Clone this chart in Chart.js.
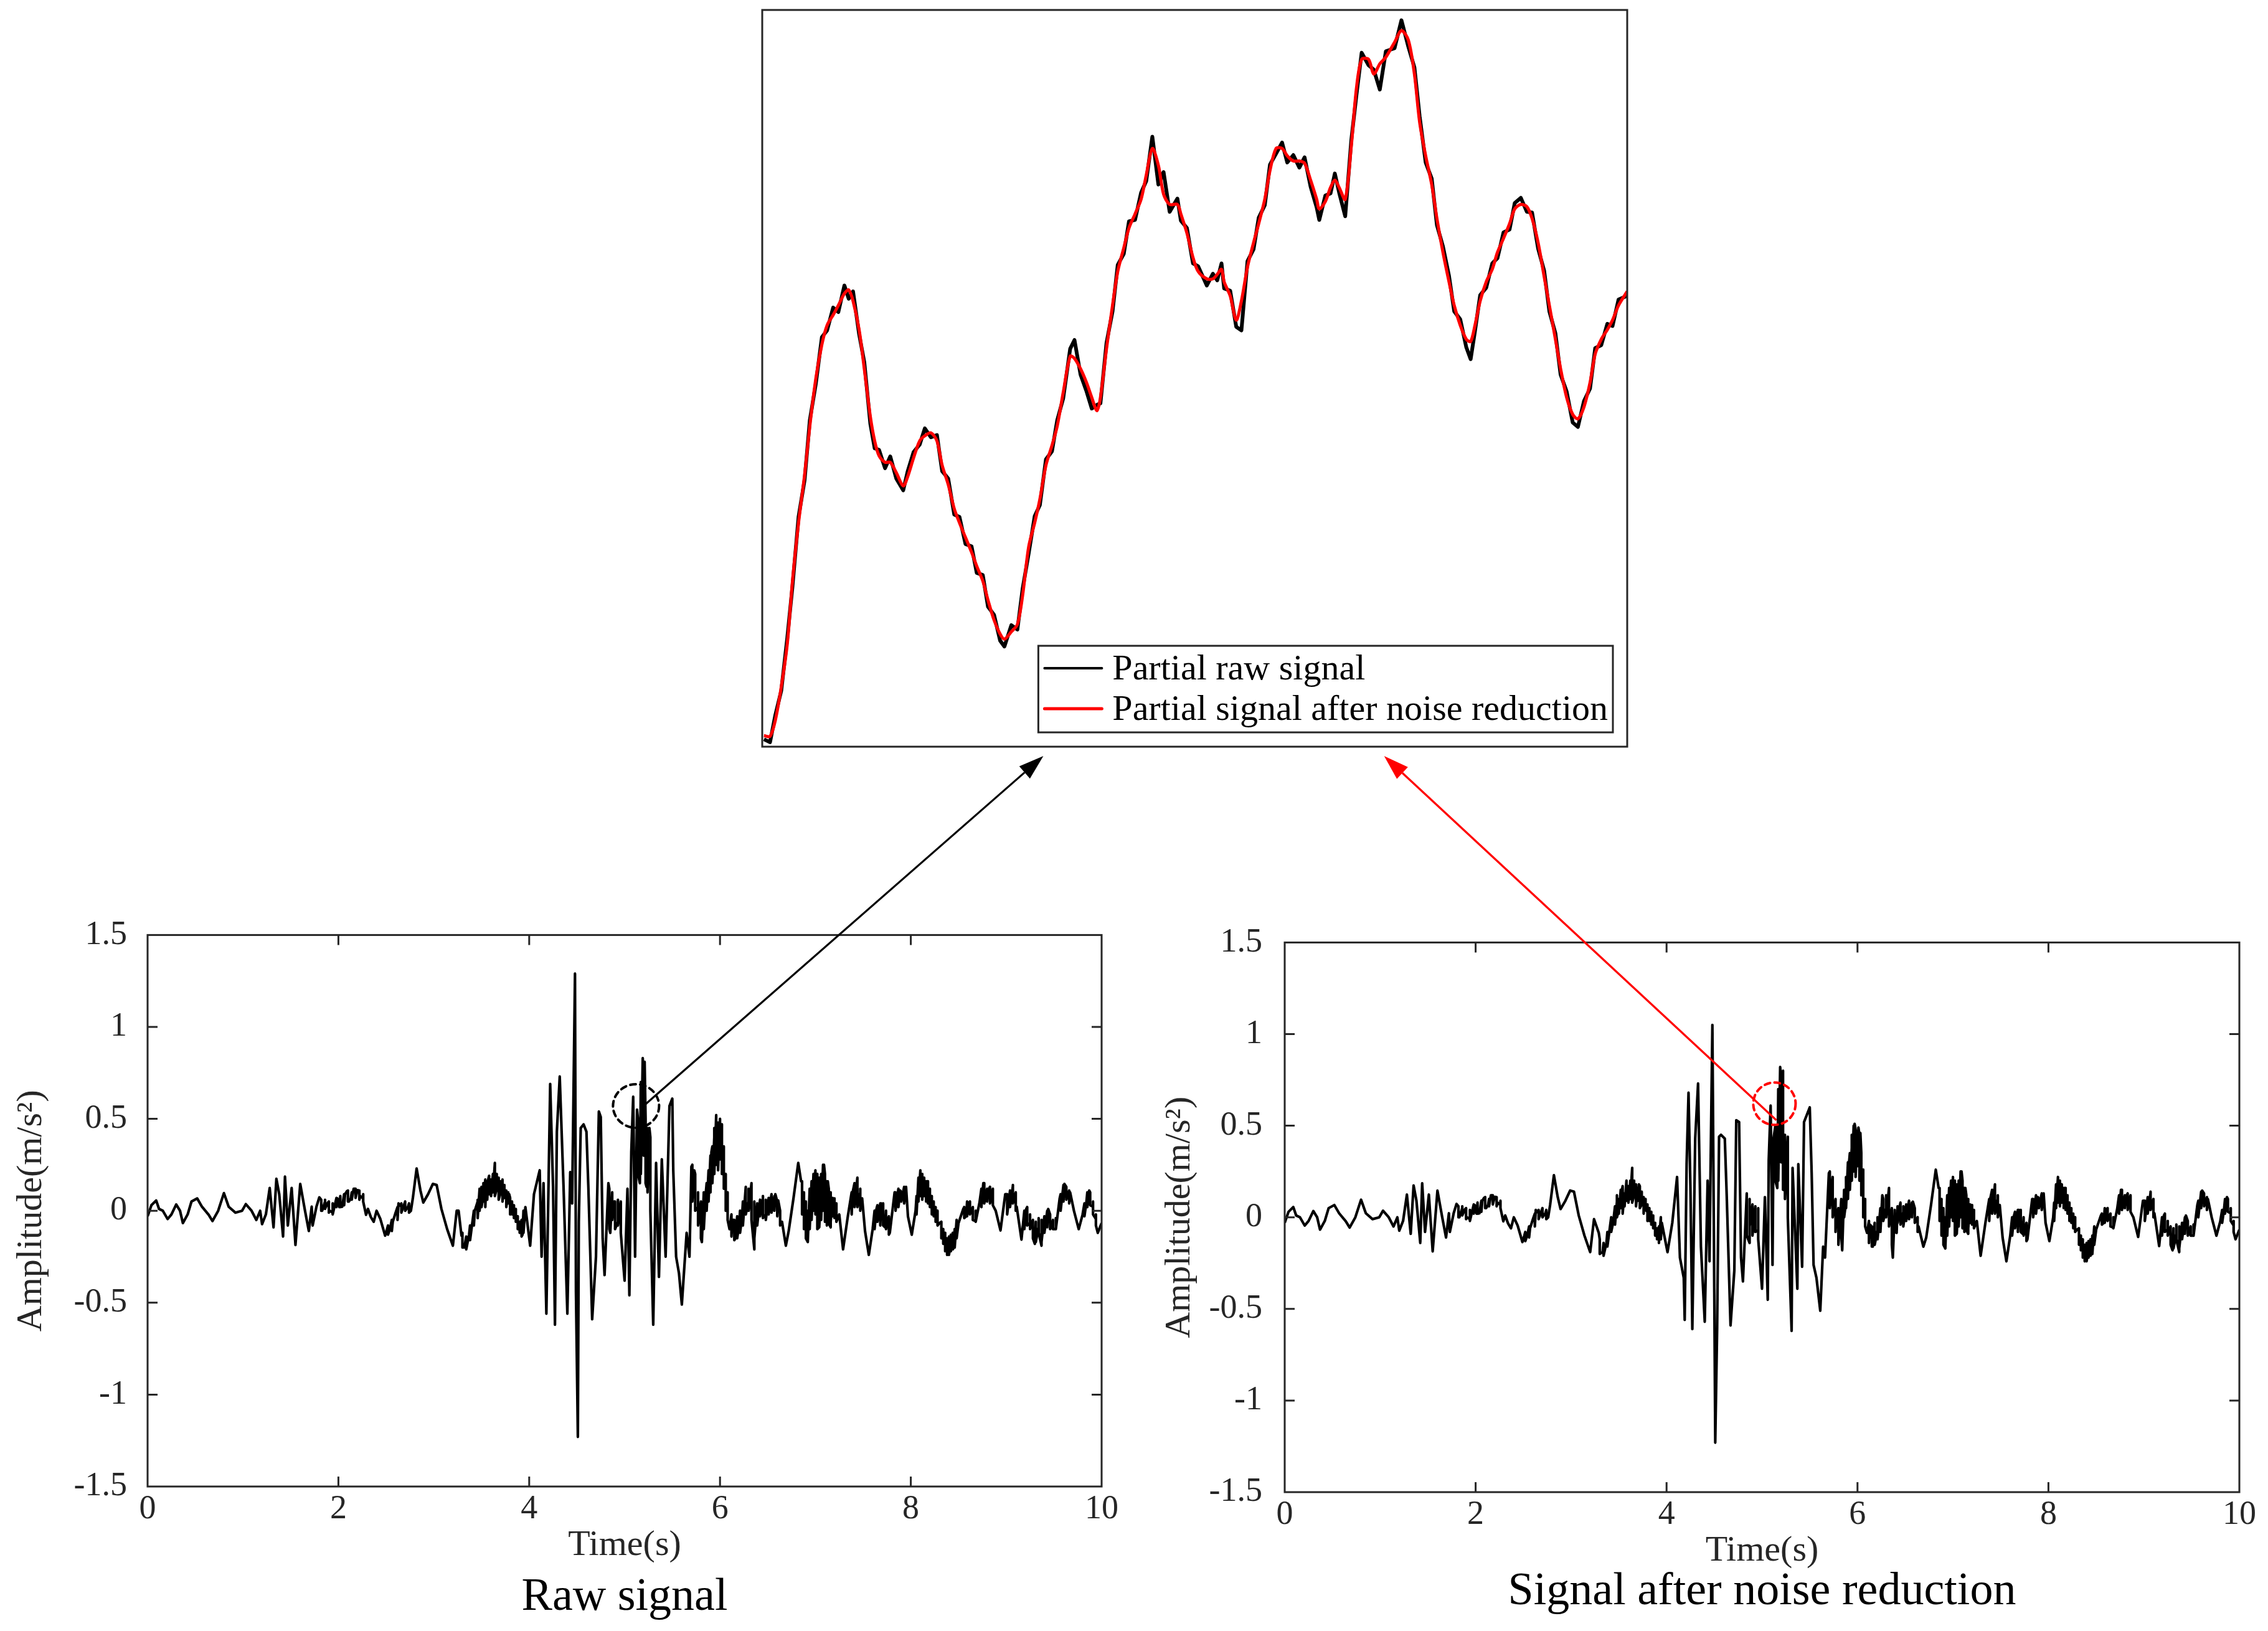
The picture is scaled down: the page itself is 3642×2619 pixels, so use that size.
<!DOCTYPE html>
<html><head><meta charset="utf-8">
<script src="https://cdn.jsdelivr.net/npm/chart.js@4.4.0/dist/chart.umd.min.js"></script>
<style>
html,body{margin:0;padding:0;background:#fff;overflow:hidden;}
#page{position:relative;width:3642px;height:2619px;background:#fff;overflow:hidden;}
#page canvas{position:absolute;}
</style></head><body>
<div id="page">
<canvas id="cTop" width="1440" height="1220" style="left:1200px;top:0px;"></canvas>
<canvas id="cRaw" width="1800" height="1171" style="left:0px;top:1436px;"></canvas>
<canvas id="cDen" width="1812" height="1153" style="left:1830px;top:1445px;"></canvas>
<canvas id="overlay" width="3642" height="2619" style="left:0px;top:0px;pointer-events:none;"></canvas>
</div>
<script>
// ---------------- DATA ----------------
const xTickLabels = ['0','2','4','6','8','10'];
const yTickLabels = ['-1.5','-1','-0.5','0','0.5','1','1.5'];
const panelTitles = ['Raw signal','Signal after noise reduction'];
const axisTitles = ['Time(s)','Amplitude(m/s\u00B2)'];
const zoomLabels = ['Partial raw signal','Partial signal after noise reduction'];

// raw signal trace: [time s, amplitude m/s^2]
const rawSignal = [
[0.00,-0.03],[0.04,0.03],[0.09,0.056],[0.12,0.01],[0.16,0],[0.21,-0.045],[0.25,-0.02],[0.30,0.034],[0.34,0],[0.37,-0.067],
[0.42,-0.02],[0.46,0.05],[0.52,0.067],[0.57,0.022],[0.64,-0.022],[0.68,-0.056],[0.74,0],[0.80,0.096],[0.85,0.022],[0.92,-0.01],
[0.99,0],[1.03,0.036],[1.09,0],[1.14,-0.05],[1.18,0],[1.20,-0.073],[1.24,-0.02],[1.28,0.124],[1.32,-0.09],[1.35,0.174],
[1.38,0.09],[1.42,-0.14],[1.44,0.186],[1.47,-0.08],[1.51,0.124],[1.55,-0.186],[1.60,0.146],[1.65,0],[1.69,-0.11],[1.72,0.022],
[1.73,-0.08],[1.77,0.022],[1.80,0.073],[1.83,0],[1.86,0.05],[1.89,0.045],[1.91,0.0],[1.94,-0.01],[1.99,0.067],[2.01,0.02],
[2.04,0.022],[2.07,0.09],[2.09,0.107],[2.11,0.05],[2.13,0.067],[2.16,0.12],[2.20,0.112],[2.23,0.08],[2.26,0.067],[2.29,-0.022],
[2.31,0.01],[2.34,-0.034],[2.37,-0.06],[2.40,0],[2.44,-0.045],[2.49,-0.135],[2.51,-0.1],[2.54,-0.1],[2.57,-0.06],[2.60,-0.01],
[2.63,0.04],[2.66,0.022],[2.70,0.05],[2.73,0.022],[2.76,0],[2.78,0.067],[2.82,0.23],[2.86,0.11],[2.89,0.045],[2.94,0.09],
[2.99,0.146],[3.03,0.14],[3.08,0.01],[3.14,-0.1],[3.20,-0.19],[3.24,0],[3.26,0.0],[3.29,-0.135],[3.32,-0.2],[3.37,-0.13],
[3.43,0],[3.46,0.05],[3.50,0.13],[3.52,0.08],[3.55,0.16],[3.57,0.17],[3.60,0.12],[3.62,0.2],[3.64,0.26],[3.66,0.12],
[3.68,0.17],[3.70,0.1],[3.72,0.15],[3.75,0.08],[3.79,0.09],[3.82,0.0],[3.86,-0.02],[3.89,-0.08],[3.93,-0.13],[3.96,0.02],
[4.01,-0.19],[4.05,0.09],[4.11,0.22],[4.13,-0.25],[4.15,0.15],[4.18,-0.56],[4.22,0.69],[4.25,0.13],[4.27,-0.62],[4.29,0.43],
[4.32,0.73],[4.36,0.13],[4.40,-0.56],[4.43,0.21],[4.45,0.04],[4.48,1.29],[4.49,-0.44],[4.51,-1.23],[4.52,-0.06],[4.54,0.45],
[4.57,0.47],[4.60,0.43],[4.62,0.13],[4.66,-0.59],[4.70,-0.25],[4.73,0.54],[4.75,0.51],[4.77,-0.15],[4.79,-0.35],[4.83,0.15],
[4.85,-0.12],[4.89,0.05],[4.93,-0.06],[4.96,0.05],[5.00,-0.38],[5.03,0.12],[5.05,-0.46],[5.07,0.32],[5.09,0.62],[5.11,-0.25],
[5.13,0.55],[5.16,0.15],[5.19,0.83],[5.21,0.81],[5.23,0.13],[5.26,0.45],[5.30,-0.62],[5.33,0.26],[5.36,-0.36],[5.39,0.28],
[5.43,-0.25],[5.47,0.57],[5.50,0.61],[5.51,0.22],[5.54,-0.25],[5.57,-0.34],[5.60,-0.51],[5.65,-0.12],[5.68,-0.25],[5.70,0.24],
[5.73,0.22],[5.77,0.02],[5.81,-0.17],[5.85,0.09],[5.91,0.32],[5.94,0.4],[5.96,0.52],[5.98,0.35],[6.00,0.5],[6.02,0.47],
[6.04,0.3],[6.05,0.17],[6.08,0.0],[6.10,-0.1],[6.13,-0.05],[6.16,-0.15],[6.20,-0.08],[6.23,-0.04],[6.27,0.13],[6.30,0.05],
[6.33,0.15],[6.36,-0.21],[6.41,0.02],[6.45,0.07],[6.48,-0.02],[6.52,0.02],[6.58,0.09],[6.61,0.056],[6.65,-0.06],[6.69,-0.19],
[6.72,-0.11],[6.77,0.067],[6.82,0.26],[6.85,0.16],[6.88,0],[6.92,-0.17],[6.96,0.16],[7.00,0.22],[7.02,0.05],[7.04,-0.09],
[7.06,0.12],[7.09,0.25],[7.11,0.1],[7.13,0.16],[7.16,-0.09],[7.20,0.067],[7.25,-0.02],[7.29,-0.21],[7.34,-0.03],[7.39,0.1],
[7.44,0.18],[7.47,0.1],[7.49,0.067],[7.52,-0.11],[7.56,-0.24],[7.60,-0.1],[7.64,0.01],[7.69,0.04],[7.71,-0.03],[7.73,-0.09],
[7.78,-0.12],[7.83,0.1],[7.89,0.11],[7.95,0.13],[7.97,-0.03],[8.01,-0.13],[8.05,0],[8.10,0.22],[8.13,0.15],[8.17,0.16],
[8.20,0.08],[8.24,0.022],[8.30,-0.067],[8.35,-0.146],[8.39,-0.236],[8.42,-0.17],[8.45,-0.2],[8.50,-0.067],[8.55,0.01],[8.58,-0.03],
[8.61,0.045],[8.68,-0.056],[8.72,0.045],[8.76,0.15],[8.81,0.11],[8.86,0.12],[8.89,0],[8.94,-0.107],[8.99,0.09],[9.07,0.135],
[9.11,0.022],[9.16,-0.157],[9.21,0.01],[9.25,-0.067],[9.30,-0.18],[9.34,-0.09],[9.37,-0.19],[9.41,-0.08],[9.44,0.01],[9.47,-0.09],
[9.52,-0.1],[9.56,0.067],[9.61,0.146],[9.67,0.1],[9.71,0],[9.76,-0.1],[9.80,-0.022],[9.84,0.045],[9.87,0.11],[9.91,0.022],
[9.94,-0.045],[9.96,-0.12],[10.00,-0.067]
];

// signal after noise reduction trace: [time s, amplitude m/s^2]
const denoisedSignal = [
[0.00,-0.03],[0.04,0.03],[0.09,0.056],[0.12,0.01],[0.16,0],[0.21,-0.045],[0.25,-0.02],[0.30,0.034],[0.34,0],[0.37,-0.067],
[0.42,-0.02],[0.46,0.05],[0.52,0.067],[0.57,0.022],[0.64,-0.022],[0.68,-0.056],[0.74,0],[0.80,0.096],[0.85,0.022],[0.92,-0.01],
[0.99,0],[1.03,0.036],[1.09,0],[1.14,-0.05],[1.18,0],[1.20,-0.073],[1.24,-0.02],[1.28,0.124],[1.32,-0.09],[1.35,0.174],
[1.38,0.09],[1.42,-0.14],[1.44,0.186],[1.47,-0.08],[1.51,0.124],[1.55,-0.186],[1.60,0.146],[1.65,0],[1.69,-0.11],[1.72,0.022],
[1.73,-0.08],[1.77,0.022],[1.80,0.073],[1.83,0],[1.86,0.05],[1.89,0.045],[1.91,0.0],[1.94,-0.01],[1.99,0.067],[2.01,0.02],
[2.04,0.022],[2.07,0.09],[2.09,0.107],[2.11,0.05],[2.13,0.067],[2.16,0.12],[2.20,0.112],[2.23,0.08],[2.26,0.067],[2.29,-0.022],
[2.31,0.01],[2.34,-0.034],[2.37,-0.06],[2.40,0],[2.44,-0.045],[2.49,-0.135],[2.51,-0.1],[2.54,-0.1],[2.57,-0.06],[2.60,-0.01],
[2.63,0.04],[2.66,0.022],[2.70,0.05],[2.73,0.022],[2.76,0],[2.78,0.067],[2.82,0.23],[2.86,0.11],[2.89,0.045],[2.94,0.09],
[2.99,0.146],[3.03,0.14],[3.08,0.01],[3.14,-0.1],[3.20,-0.19],[3.24,-0.01],[3.29,-0.085],[3.33,-0.19],[3.37,-0.14],[3.44,-0.03],
[3.48,0.085],[3.50,0.04],[3.53,0.14],[3.55,0.08],[3.58,0.2],[3.61,0.12],[3.64,0.27],[3.66,0.12],[3.68,0.16],[3.71,0.18],
[3.74,0.07],[3.77,0.1],[3.80,0.03],[3.84,0.01],[3.87,-0.05],[3.90,-0.085],[3.95,-0.03],[4.01,-0.19],[4.06,-0.03],[4.11,0.22],
[4.14,-0.22],[4.18,-0.33],[4.19,-0.56],[4.21,0.29],[4.23,0.68],[4.25,0.16],[4.27,-0.61],[4.30,0.43],[4.33,0.73],[4.36,-0.16],
[4.40,-0.57],[4.43,0.2],[4.45,-0.24],[4.46,0.23],[4.48,1.05],[4.50,-0.41],[4.51,-1.23],[4.53,-0.6],[4.55,0.44],[4.57,0.45],
[4.61,0.43],[4.63,0.12],[4.67,-0.59],[4.71,-0.29],[4.73,0.53],[4.76,0.52],[4.78,-0.22],[4.80,-0.35],[4.84,0.13],[4.87,-0.14],
[4.90,0.07],[4.96,-0.07],[5.00,-0.39],[5.03,0.11],[5.06,-0.45],[5.07,0.31],[5.09,0.61],[5.11,-0.26],[5.12,0.43],[5.16,0.16],
[5.19,0.82],[5.22,0.80],[5.23,0.16],[5.27,0.44],[5.31,-0.62],[5.32,0.27],[5.37,-0.39],[5.38,0.29],[5.42,-0.27],[5.44,0.52],
[5.47,0.56],[5.50,0.6],[5.52,0.24],[5.54,-0.26],[5.57,-0.33],[5.61,-0.51],[5.64,-0.16],[5.66,-0.22],[5.70,0.24],[5.74,0.22],
[5.78,0.01],[5.84,-0.18],[5.88,0.085],[5.91,0.29],[5.94,0.38],[5.97,0.51],[5.99,0.36],[6.01,0.49],[6.03,0.46],[6.06,0.26],
[6.10,-0.085],[6.13,-0.04],[6.16,-0.16],[6.21,-0.07],[6.26,0.12],[6.30,0.05],[6.33,0.16],[6.37,-0.22],[6.41,-0.085],[6.44,0.05],
[6.48,0.03],[6.53,0.06],[6.58,0.085],[6.64,-0.05],[6.69,-0.16],
[6.72,-0.11],[6.77,0.067],[6.82,0.26],[6.85,0.16],[6.88,0],[6.92,-0.17],[6.96,0.16],[7.00,0.22],[7.02,0.05],[7.04,-0.09],
[7.06,0.12],[7.09,0.25],[7.11,0.1],[7.13,0.16],[7.16,-0.09],[7.20,0.067],[7.25,-0.02],[7.29,-0.21],[7.34,-0.03],[7.39,0.1],
[7.44,0.18],[7.47,0.1],[7.49,0.067],[7.52,-0.11],[7.56,-0.24],[7.60,-0.1],[7.64,0.01],[7.69,0.04],[7.71,-0.03],[7.73,-0.09],
[7.78,-0.12],[7.83,0.1],[7.89,0.11],[7.95,0.13],[7.97,-0.03],[8.01,-0.13],[8.05,0],[8.10,0.22],[8.13,0.15],[8.17,0.16],
[8.20,0.08],[8.24,0.022],[8.30,-0.067],[8.35,-0.146],[8.39,-0.236],[8.42,-0.17],[8.45,-0.2],[8.50,-0.067],[8.55,0.01],[8.58,-0.03],
[8.61,0.045],[8.68,-0.056],[8.72,0.045],[8.76,0.15],[8.81,0.11],[8.86,0.12],[8.89,0],[8.94,-0.107],[8.99,0.09],[9.07,0.135],
[9.11,0.022],[9.16,-0.157],[9.21,0.01],[9.25,-0.067],[9.30,-0.18],[9.34,-0.09],[9.37,-0.19],[9.41,-0.08],[9.44,0.01],[9.47,-0.09],
[9.52,-0.1],[9.56,0.067],[9.61,0.146],[9.67,0.1],[9.71,0],[9.76,-0.1],[9.80,-0.022],[9.84,0.045],[9.87,0.11],[9.91,0.022],
[9.94,-0.045],[9.96,-0.12],[10.00,-0.067]
];

// high-frequency noise band: [time s, upper edge, lower edge]
const noiseBand = [
[1.82,0.06,0.0],[1.86,0.06,0.01],[1.90,0.05,-0.01],[1.94,0.04,-0.02],[1.98,0.07,0.02],[2.02,0.08,0.02],[2.06,0.09,0.03],
[2.10,0.11,0.05],[2.14,0.10,0.06],[2.18,0.12,0.07],[2.22,0.11,0.06],[2.26,0.09,0.05],
[2.52,-0.08,-0.13],[2.56,-0.05,-0.11],[2.62,0.02,-0.05],[2.66,0.04,-0.01],[2.70,0.05,0.0],[2.74,0.04,-0.01],
[3.30,-0.12,-0.2],[3.34,-0.14,-0.21],[3.38,-0.08,-0.16],[3.42,0.0,-0.08],
[3.46,0.06,-0.04],[3.48,0.12,0.0],[3.50,0.1,0.02],[3.52,0.15,0.05],[3.54,0.17,0.02],[3.56,0.13,0.06],[3.58,0.19,0.09],
[3.60,0.17,0.08],[3.62,0.2,0.1],[3.64,0.22,0.08],[3.66,0.2,0.12],[3.68,0.18,0.06],[3.70,0.16,0.09],[3.72,0.17,0.05],
[3.74,0.14,0.07],[3.76,0.11,0.02],[3.78,0.1,0.04],[3.80,0.07,-0.02],[3.82,0.05,-0.02],[3.84,0.03,-0.04],[3.86,0.01,-0.06],
[3.88,-0.03,-0.1],[3.90,-0.06,-0.12],[3.92,-0.05,-0.14],[3.94,0.0,-0.12],
[4.84,0.12,-0.1],[4.87,0.1,-0.05],[4.90,0.05,-0.1],[4.93,0.06,-0.08],[4.96,0.05,-0.12],
[5.14,0.5,0.2],[5.17,0.7,0.2],[5.20,0.75,0.3],[5.22,0.5,0.15],[5.24,0.45,0.1],[5.27,0.4,0.0],
[5.71,0.25,0.05],[5.74,0.2,0.0],[5.77,0.1,-0.08],[5.80,0.05,-0.15],[5.83,0.1,-0.1],
[5.86,0.15,0.0],[5.88,0.22,0.05],[5.90,0.3,0.1],[5.92,0.35,0.15],[5.94,0.45,0.2],[5.96,0.5,0.25],[5.98,0.48,0.22],
[6.00,0.47,0.28],[6.02,0.45,0.2],[6.04,0.35,0.12],[6.06,0.2,0.0],[6.08,0.1,-0.05],
[6.12,-0.02,-0.14],[6.15,-0.05,-0.16],[6.18,-0.03,-0.15],[6.21,0.0,-0.12],[6.24,0.05,-0.08],[6.27,0.1,-0.02],[6.30,0.12,0.0],
[6.33,0.1,-0.05],[6.36,0.05,-0.15],[6.39,0.04,-0.08],[6.42,0.06,-0.03],[6.45,0.08,-0.04],[6.48,0.06,-0.05],[6.51,0.07,-0.02],
[6.54,0.09,-0.01],[6.57,0.08,0.0],[6.60,0.05,-0.03],[6.63,0.0,-0.08],
[6.86,0.16,-0.02],[6.88,0.1,-0.1],[6.90,0.05,-0.15],[6.92,0.0,-0.17],[6.94,0.12,-0.1],[6.96,0.16,-0.05],[6.98,0.2,0.0],
[7.00,0.22,-0.02],[7.02,0.2,-0.1],[7.04,0.18,-0.09],[7.06,0.2,-0.05],[7.08,0.25,0.0],[7.10,0.2,-0.06],[7.12,0.16,-0.08],
[7.14,0.12,-0.07],[7.16,0.1,-0.06],[7.18,0.07,-0.03],[7.20,0.06,-0.04],[7.22,0.04,-0.06],
[7.38,0.1,-0.02],[7.41,0.15,0.02],[7.44,0.18,0.02],[7.47,0.12,0.0],
[7.62,0.0,-0.1],[7.65,0.03,-0.06],[7.68,0.04,-0.08],[7.71,0.04,-0.08],[7.74,0.0,-0.1],[7.77,-0.03,-0.13],
[7.84,0.1,0.0],[7.87,0.12,0.02],[7.90,0.1,0.05],[7.93,0.13,0.04],
[8.06,0.08,-0.02],[8.08,0.18,0.05],[8.10,0.22,0.08],[8.12,0.2,0.06],[8.14,0.18,0.08],[8.16,0.16,0.05],[8.18,0.16,0.04],
[8.20,0.12,0.02],[8.22,0.08,-0.02],[8.24,0.05,-0.03],[8.26,0.02,-0.06],[8.28,0.0,-0.08],
[8.32,-0.06,-0.15],[8.34,-0.1,-0.18],[8.36,-0.12,-0.22],[8.38,-0.15,-0.24],[8.40,-0.14,-0.24],[8.42,-0.13,-0.22],
[8.44,-0.12,-0.21],[8.46,-0.1,-0.2],[8.48,-0.05,-0.15],
[8.56,0.02,-0.04],[8.59,0.05,-0.03],[8.62,0.05,-0.02],[8.65,0.02,-0.05],[8.68,0.0,-0.06],
[8.74,0.12,0.02],[8.77,0.15,0.04],[8.80,0.12,0.05],[8.83,0.13,0.04],[8.86,0.12,0.03],
[9.01,0.09,-0.02],[9.04,0.11,0.02],[9.07,0.14,0.04],[9.10,0.1,0.0],
[9.19,0.0,-0.1],[9.22,0.02,-0.08],[9.25,-0.02,-0.1],[9.28,-0.05,-0.15],[9.31,-0.06,-0.17],[9.34,-0.04,-0.12],
[9.37,-0.05,-0.17],[9.40,-0.03,-0.12],[9.43,0.0,-0.09],[9.46,-0.02,-0.1],[9.49,-0.05,-0.1],[9.52,-0.04,-0.1],
[9.57,0.09,0.0],[9.60,0.14,0.05],[9.63,0.13,0.06],[9.66,0.11,0.04],
[9.82,0.04,-0.03],[9.85,0.1,0.02],[9.88,0.1,0.03],[9.91,0.05,-0.02],[9.94,-0.02,-0.08]
];

// zoomed partial window (relative units, no axes shown): [position, level]
const zoomDen = [
[0.2,1.5],[0.9,1.4],[1.5,3.5],[2.2,8.1],[2.9,14.0],[3.5,22.5],[4.2,30.4],[4.9,36.9],[5.5,43.5],[6.2,50.0],
[6.9,54.6],[7.5,57.2],[8.2,58.6],[8.8,59.9],[9.5,61.5],[10.0,62.0],[10.5,60.5],[11.2,56.6],[11.8,51.3],[12.5,44.8],
[13.0,41.5],[13.5,39.5],[14.2,38.6],[14.8,38.6],[15.5,37.2],[16.3,35.4],[16.8,36.6],[17.5,39.2],[18.2,41.5],[18.8,42.2],
[19.5,42.6],[20.2,41.5],[20.8,38.2],[21.5,35.6],[22.2,32.3],[22.8,30.4],[23.5,28.4],[24.2,26.4],[24.8,24.5],[25.5,22.5],
[26.1,19.9],[26.8,17.2],[27.5,15.3],[28.0,14.6],[28.8,15.6],[29.5,16.6],[30.1,20.5],[30.8,27.1],[31.5,30.4],[32.1,33.6],
[32.8,38.2],[33.5,40.9],[34.1,43.5],[34.8,48.1],[35.6,53.0],[36.1,52.7],[36.8,51.3],[37.5,49.4],[38.1,47.4],[38.7,45.6],
[39.1,47.4],[39.8,54.0],[40.5,59.9],[41.1,64.5],[41.8,67.7],[42.4,70.4],[43.1,72.3],[43.8,74.3],[44.4,77.6],[45.1,81.2],
[45.8,78.9],[46.4,75.0],[47.1,73.6],[48.0,73.6],[48.4,72.3],[49.1,69.7],[49.8,66.4],[50.4,64.5],[51.4,63.5],[52.1,63.5],
[52.6,64.1],[53.1,64.8],[53.4,63.1],[54.1,61.2],[54.8,57.9],[55.4,60.5],[56.1,65.1],[56.8,68.4],[57.4,71.0],[58.1,74.3],
[58.7,78.2],[59.4,81.2],[60.1,81.2],[60.7,80.2],[61.4,79.5],[62.1,79.5],[62.7,79.2],[63.4,76.9],[64.1,74.3],[64.4,73.0],
[65.1,74.0],[65.7,75.9],[66.2,76.9],[66.7,75.9],[67.4,74.3],[68.1,81.5],[68.7,89.4],[69.3,93.3],[70.1,93.3],[70.7,91.3],
[71.4,92.7],[72.1,93.6],[73.1,95.6],[73.9,97.2],[74.7,95.9],[75.4,91.3],[76.0,84.8],[76.7,80.2],[77.4,76.3],[78.0,71.7],
[78.7,67.1],[79.4,63.1],[80.0,59.9],[80.7,57.2],[81.4,55.3],[81.9,55.0],[82.4,57.2],[83.0,60.5],[83.7,63.1],[84.4,64.8],
[85.0,67.1],[85.7,69.0],[86.4,71.0],[87.0,73.0],[87.7,73.6],[88.4,73.3],[89.0,71.7],[89.7,68.4],[90.4,63.8],[91.0,59.9],
[91.7,55.3],[92.3,51.3],[93.0,47.4],[93.7,45.1],[94.3,44.5],[95.0,46.1],[95.7,49.4],[96.3,53.3],[97.0,55.3],[97.7,56.6],
[98.3,57.9],[99.0,59.9],[100,61.8]
];
const zoomRaw = [
[0.2,1.0],[0.9,0.6],[1.5,4.2],[2.2,7.6],[2.9,14.8],[3.5,21.8],[4.2,31.2],[4.9,36.2],[5.5,44.3],[6.2,49.3],
[6.9,55.6],[7.5,56.5],[8.2,59.6],[8.8,59.0],[9.5,62.6],[10.0,60.8],[10.5,61.8],[11.2,56.0],[11.8,52.2],[12.5,43.8],
[13.0,40.5],[13.5,40.3],[14.2,37.8],[14.8,39.4],[15.5,36.4],[16.3,34.8],[16.8,37.3],[17.5,40.0],[18.2,41.0],[18.8,43.2],
[19.5,42.0],[20.2,42.3],[20.8,37.4],[21.5,36.4],[22.2,31.5],[22.8,31.2],[23.5,27.5],[24.2,27.2],[24.8,23.6],[25.5,23.3],
[26.1,19.0],[26.8,17.9],[27.5,14.4],[28.0,13.6],[28.8,16.5],[29.5,15.9],[30.1,21.4],[30.8,26.2],[31.5,31.3],[32.1,32.8],
[32.8,39.0],[33.5,40.1],[34.1,44.3],[34.8,47.3],[35.6,54.0],[36.1,55.2],[36.8,50.5],[37.5,48.2],[38.1,45.9],[38.7,46.4],
[39.1,46.6],[39.8,54.8],[40.5,59.1],[41.1,65.4],[41.8,66.9],[42.4,71.3],[43.1,71.5],[43.8,75.2],[44.4,76.8],[45.1,82.8],
[45.8,76.3],[46.4,78.0],[47.1,72.6],[48.0,74.4],[48.4,71.4],[49.1,70.4],[49.8,65.6],[50.4,65.2],[51.4,62.6],[52.1,64.2],
[52.6,63.3],[53.1,65.6],[53.4,62.2],[54.1,61.9],[54.8,57.0],[55.4,56.5],[56.1,65.9],[56.8,67.5],[57.4,71.8],[58.1,73.5],
[58.7,79.0],[59.4,80.5],[60.1,82.0],[60.7,79.3],[61.4,80.3],[62.1,78.6],[62.7,80.0],[63.4,76.0],[64.1,73.2],[64.4,71.5],
[65.1,74.8],[65.7,75.1],[66.2,77.8],[66.7,75.2],[67.4,72.0],[68.1,82.3],[68.7,88.5],[69.3,94.2],[70.1,92.5],[70.7,91.9],
[71.4,89.2],[72.1,94.4],[73.1,94.8],[73.9,98.6],[74.7,95.0],[75.4,92.2],[76.0,85.6],[76.7,79.3],[77.4,77.1],[78.0,70.8],
[78.7,67.9],[79.4,63.9],[80.0,59.1],[80.7,58.0],[81.4,54.2],[81.9,52.6],[82.4,56.4],[83.0,61.3],[83.7,62.3],[84.4,65.6],
[85.0,66.3],[85.7,69.8],[86.4,70.2],[87.0,73.8],[87.7,74.5],[88.4,72.6],[89.0,72.5],[89.7,67.6],[90.4,64.6],[91.0,59.1],
[91.7,56.1],[92.3,50.5],[93.0,48.2],[93.7,44.0],[94.3,43.4],[95.0,46.9],[95.7,48.6],[96.3,54.1],[97.0,54.5],[97.7,57.4],
[98.3,57.1],[99.0,60.7],[100,61.2]
];

// callouts: circled region [time, amplitude] in each lower panel, arrow start [time, amplitude],
// arrow tip in the zoom window's units [position, level]
const rawCircle = [5.12, 0.57];
const denCircle = [5.13, 0.62];
const rawArrowStart = [5.22, 0.58];
const denArrowStart = [5.15, 0.53];
const rawArrowTip = [32.5, -1.27];
const denArrowTip = [71.9, -1.27];

// ---------------- STYLE / CHARTS ----------------
const SERIF = "'Liberation Serif','Times New Roman',serif";
Chart.defaults.font.family = SERIF;
Chart.defaults.animation = false;
const AXIS = '#262626';

const framePlugin = {
  id: 'frame',
  afterDatasetsDraw(chart, args, opts) {
    const {ctx, chartArea: a} = chart;
    ctx.save();
    ctx.strokeStyle = AXIS; ctx.lineWidth = 3;
    if (opts.ticks) {
      const L = 16, xs = chart.scales.x, ys = chart.scales.y;
      ctx.beginPath();
      xs.ticks.forEach(tk => {
        const p = xs.getPixelForValue(tk.value);
        if (p <= a.left + 3 || p >= a.right - 3) return;
        ctx.moveTo(p, a.bottom); ctx.lineTo(p, a.bottom - L);
        ctx.moveTo(p, a.top); ctx.lineTo(p, a.top + L);
      });
      ys.ticks.forEach(tk => {
        const p = ys.getPixelForValue(tk.value);
        if (p <= a.top + 3 || p >= a.bottom - 3) return;
        ctx.moveTo(a.left, p); ctx.lineTo(a.left + L, p);
        ctx.moveTo(a.right, p); ctx.lineTo(a.right - L, p);
      });
      ctx.stroke();
    }
    ctx.strokeRect(a.left, a.top, a.right - a.left, a.bottom - a.top);
    ctx.restore();
  }
};

const innerLegend = {
  id: 'innerLegend',
  afterDraw(chart) {
    const {ctx, chartArea: a} = chart;
    const ds = chart.data.datasets;
    ctx.save();
    ctx.font = '58px ' + SERIF;
    const maxW = Math.max(...ds.map(d => ctx.measureText(d.label).width));
    const w = 119 + maxW + 8, h = 139;
    const x0 = a.right - 23 - w, y0 = a.bottom - 23 - h;
    ctx.fillStyle = '#fff'; ctx.fillRect(x0, y0, w, h);
    ctx.strokeStyle = AXIS; ctx.lineWidth = 3; ctx.strokeRect(x0, y0, w, h);
    const rows = [36, 101];
    ds.forEach((d, i) => {
      const y = y0 + rows[i];
      ctx.strokeStyle = d.borderColor; ctx.lineWidth = i === 0 ? 4 : 5;
      ctx.lineCap = 'round';
      ctx.beginPath(); ctx.moveTo(x0 + 10, y); ctx.lineTo(x0 + 102, y); ctx.stroke();
      ctx.fillStyle = '#000'; ctx.textBaseline = 'middle'; ctx.textAlign = 'left';
      ctx.fillText(d.label, x0 + 119, y + 3);
    });
    ctx.restore();
  }
};

// trace points plus band edges (upper then lower at the same instant), ordered by time
function buildSeries(trace, band) {
  const pts = trace.map(p => ({x: p[0], y: p[1]}));
  band.forEach(b => { pts.push({x: b[0], y: b[1]}); pts.push({x: b[0], y: b[2]}); });
  return pts.map((p, i) => ({p, i})).sort((a, b) => a.p.x - b.p.x || a.i - b.i).map(o => o.p);
}
const toPts = arr => arr.map(p => ({x: p[0], y: p[1]}));

function lowerPanel(id, data, title, o) {
  return new Chart(document.getElementById(id), {
    type: 'line',
    data: { datasets: [{ data: data, borderColor: '#000', borderWidth: 4.2,
      pointRadius: 0, tension: 0, borderJoinStyle: 'round', fill: false }] },
    options: {
      responsive: false, animation: false, events: [],
      layout: { padding: { top: 50, right: o.right, left: 0, bottom: 0 } },
      scales: {
        x: { type: 'linear', min: 0, max: 10,
          grid: { display: false, drawTicks: false }, border: { display: false },
          ticks: { stepSize: 2, autoSkip: false, maxRotation: 0, padding: 4, color: AXIS,
            font: { size: 54, family: SERIF }, callback: (v, i) => xTickLabels[i] },
          title: { display: true, text: axisTitles[0], color: AXIS, padding: 0,
            font: { size: 58, family: SERIF, lineHeight: 1.0 } },
          afterFit: s => { s.height = 124; } },
        y: { type: 'linear', min: -1.5, max: 1.5,
          grid: { display: false, drawTicks: false }, border: { display: false },
          ticks: { stepSize: 0.5, autoSkip: false, padding: o.tickPad, color: AXIS,
            font: { size: 54, family: SERIF }, callback: (v, i) => yTickLabels[i] },
          title: { display: true, text: axisTitles[1], color: AXIS, padding: { top: o.yTitlePad, bottom: 0 },
            font: { size: 58, family: SERIF, lineHeight: 1.0 } },
          afterFit: s => { s.width = o.yWidth; } }
      },
      plugins: {
        legend: { display: false }, tooltip: { enabled: false },
        title: { display: true, position: 'bottom', fullSize: false, text: title, color: '#000',
          padding: { top: o.titlePad, bottom: 4 }, font: { size: 74, weight: 'normal', family: SERIF, lineHeight: 1.0 } },
        frame: { ticks: true }
      }
    },
    plugins: [framePlugin]
  });
}

const chartRaw = lowerPanel('cRaw', buildSeries(rawSignal, noiseBand), panelTitles[0],
  { right: 30, tickPad: 33, yTitlePad: 22, yWidth: 237, titlePad: 18 });
const chartDen = lowerPanel('cDen', buildSeries(denoisedSignal, noiseBand), panelTitles[1],
  { right: 46, tickPad: 36, yTitlePad: 36, yWidth: 233, titlePad: 0 });

const chartTop = new Chart(document.getElementById('cTop'), {
  type: 'line',
  data: { datasets: [
    { label: zoomLabels[0], data: toPts(zoomRaw), borderColor: '#000', borderWidth: 6, order: 2,
      pointRadius: 0, tension: 0, borderJoinStyle: 'round', fill: false },
    { label: zoomLabels[1], data: toPts(zoomDen), borderColor: '#ff0000', borderWidth: 5, order: 1,
      pointRadius: 0, tension: 0.3, borderJoinStyle: 'round', fill: false }
  ] },
  options: {
    responsive: false, animation: false, events: [],
    layout: { padding: { left: 24, top: 16, right: 27, bottom: 21 } },
    scales: {
      x: { type: 'linear', min: 0, max: 100, display: false },
      y: { type: 'linear', min: 0, max: 100, display: false }
    },
    plugins: { legend: { display: false }, tooltip: { enabled: false }, frame: { ticks: false } }
  },
  plugins: [framePlugin, innerLegend]
});

// ---------------- OVERLAY (callouts) ----------------
function pagePt(chart, id, xv, yv) {
  const c = document.getElementById(id);
  return [c.offsetLeft + chart.scales.x.getPixelForValue(xv), c.offsetTop + chart.scales.y.getPixelForValue(yv)];
}
const ov = document.getElementById('overlay').getContext('2d');
function arrow(p0, p1, color) {
  const ang = Math.atan2(p1[1] - p0[1], p1[0] - p0[0]);
  const L = 40, W = 13;
  const bx = p1[0] - L * Math.cos(ang), by = p1[1] - L * Math.sin(ang);
  ov.save();
  ov.strokeStyle = color; ov.fillStyle = color; ov.lineWidth = 3.2;
  ov.beginPath(); ov.moveTo(p0[0], p0[1]); ov.lineTo(bx, by); ov.stroke();
  ov.beginPath(); ov.moveTo(p1[0], p1[1]);
  ov.lineTo(bx + W * Math.sin(ang), by - W * Math.cos(ang));
  ov.lineTo(bx - W * Math.sin(ang), by + W * Math.cos(ang));
  ov.closePath(); ov.fill();
  ov.restore();
}
function dashedRing(c, rx, ry, color) {
  ov.save();
  ov.strokeStyle = color; ov.lineWidth = 4; ov.setLineDash([9, 7]); ov.lineCap = 'round';
  ov.beginPath(); ov.ellipse(c[0], c[1], rx, ry, 0, 0, Math.PI * 2); ov.stroke();
  ov.restore();
}
dashedRing(pagePt(chartRaw, 'cRaw', rawCircle[0], rawCircle[1]), 37, 35, '#000');
dashedRing(pagePt(chartDen, 'cDen', denCircle[0], denCircle[1]), 34, 34, '#ff0000');
arrow(pagePt(chartRaw, 'cRaw', rawArrowStart[0], rawArrowStart[1]), pagePt(chartTop, 'cTop', rawArrowTip[0], rawArrowTip[1]), '#000');
arrow(pagePt(chartDen, 'cDen', denArrowStart[0], denArrowStart[1]), pagePt(chartTop, 'cTop', denArrowTip[0], denArrowTip[1]), '#ff0000');
</script>
</body></html>
